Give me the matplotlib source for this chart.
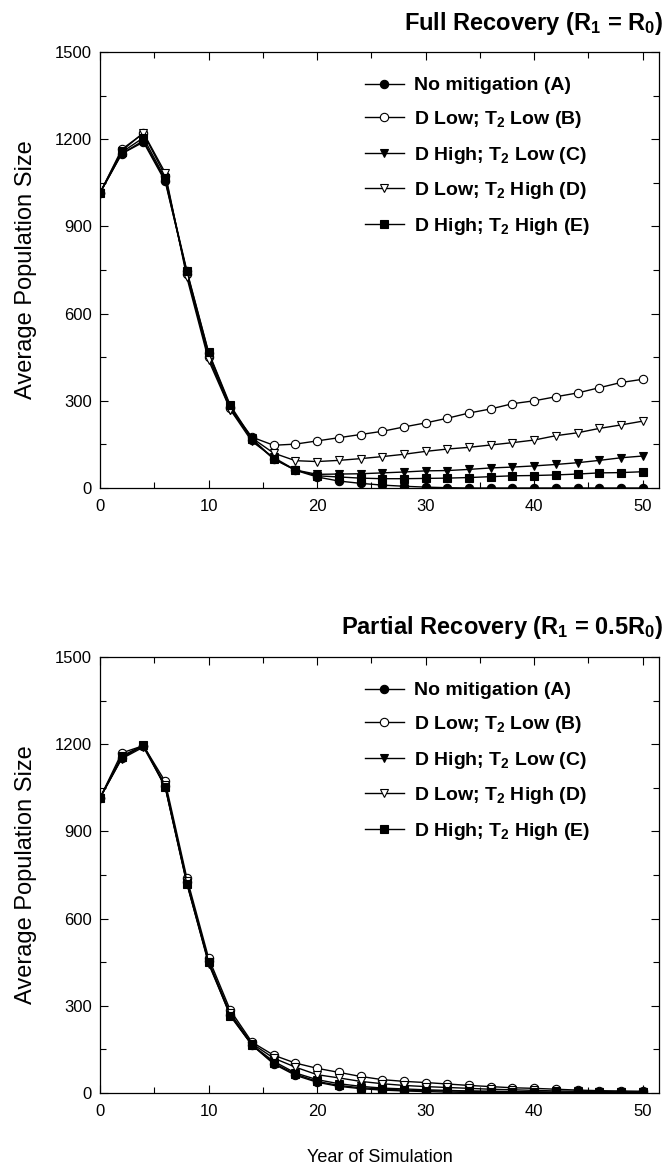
#!/usr/bin/env python3
"""
Average population size over 50 simulated years, two recovery scenarios,
five mitigation treatments each (A-E).
"""

import matplotlib
matplotlib.use("Agg")
import matplotlib.pyplot as plt
from matplotlib.ticker import MultipleLocator

plt.rcParams["font.family"] = ["Liberation Sans", "DejaVu Sans"]
plt.rcParams["mathtext.default"] = "regular"

years = list(range(0, 51, 2))

labels = [
    "No mitigation (A)",
    "D Low; T$_2$ Low (B)",
    "D High; T$_2$ Low (C)",
    "D Low; T$_2$ High (D)",
    "D High; T$_2$ High (E)",
]

# Full recovery (R1 = R0)
full_a = [1015, 1150, 1190, 1055, 745, 465, 280, 165, 100, 61, 38, 24, 16,
          10, 6, 3, 1, 0, 0, 0, 0, 0, 0, 0, 0, 0]
full_b = [1015, 1165, 1220, 1075, 735, 450, 275, 175, 147, 151, 162, 173, 184,
          195, 210, 224, 240, 258, 272, 290, 300, 314, 327, 345, 363, 374]
full_c = [1015, 1150, 1195, 1060, 740, 455, 270, 160, 105, 62, 47, 48, 49,
          52, 55, 59, 60, 64, 69, 72, 76, 81, 87, 95, 104, 110]
full_d = [1015, 1160, 1222, 1085, 725, 440, 270, 172, 120, 94, 91, 95, 101,
          108, 116, 126, 134, 140, 148, 156, 165, 180, 190, 205, 217, 230]
full_e = [1015, 1155, 1205, 1065, 748, 468, 285, 170, 100, 62, 42, 38, 34,
          32, 32, 33, 34, 36, 39, 42, 43, 45, 48, 52, 53, 56]

# Partial recovery (R1 = 0.5 R0)
part_a = [1015, 1152, 1195, 1055, 725, 455, 270, 165, 100, 61, 37, 23, 15,
          10, 7, 5, 3, 2, 2, 1, 1, 1, 0, 0, 0, 0]
part_b = [1015, 1170, 1195, 1072, 740, 465, 285, 175, 130, 103, 85, 71, 57,
          46, 40, 36, 31, 26, 22, 18, 16, 13, 10, 8, 7, 6]
part_c = [1015, 1150, 1190, 1055, 722, 445, 268, 165, 109, 69, 46, 32, 23,
          17, 14, 11, 9, 7, 6, 5, 4, 3, 3, 2, 2, 2]
part_d = [1015, 1160, 1195, 1060, 730, 450, 275, 170, 120, 89, 63, 52, 40,
          32, 26, 22, 19, 16, 13, 11, 9, 7, 6, 5, 4, 4]
part_e = [1015, 1155, 1198, 1052, 720, 450, 265, 165, 103, 65, 40, 26, 18,
          14, 10, 8, 7, 6, 5, 4, 3, 2, 2, 1, 1, 1]

# marker, face colour per treatment
styles = [("o", "black"), ("o", "white"), ("v", "black"), ("v", "white"), ("s", "black")]

W, H = 670, 1172


def draw_panel(ax, series, title, title_y):
    for vals, lab, (mk, fc) in zip(series, labels, styles):
        ax.plot(years, vals, color="black", lw=1.0, marker=mk, markersize=6,
                markerfacecolor=fc, markeredgecolor="black", markeredgewidth=0.8,
                label=lab)

    ax.set_xlim(0, 51.5)
    ax.set_ylim(0, 1500)
    ax.xaxis.set_major_locator(MultipleLocator(10))
    ax.xaxis.set_minor_locator(MultipleLocator(5))
    ax.yaxis.set_major_locator(MultipleLocator(300))
    ax.yaxis.set_minor_locator(MultipleLocator(150))
    ax.tick_params(which="both", direction="in", top=True, right=True,
                   labelsize=12, width=0.8)
    ax.tick_params(axis="x", which="major", pad=8)
    ax.tick_params(axis="y", which="major", pad=6)
    ax.tick_params(which="major", length=6)
    ax.tick_params(which="minor", length=4)
    for sp in ax.spines.values():
        sp.set_linewidth(0.9)

    ax.set_ylabel("Average Population Size", fontsize=17)
    ax.yaxis.set_label_coords(-(100 - 37) / 559, 0.5)

    ax.legend(loc="upper left", bbox_to_anchor=(0.474, 0.943), frameon=False,
              prop={"weight": "bold", "size": 14}, handlelength=2.0,
              handletextpad=0.5, labelspacing=0.75, borderpad=0, borderaxespad=0)

    ax.figure.text(0.99, 1 - title_y / H, title, ha="right", va="baseline",
                   fontsize=17, fontweight="bold")


fig = plt.figure(figsize=(W / 100, H / 100), dpi=100)
ax1 = fig.add_axes([100 / W, 1 - 488 / H, 559 / W, 436 / H])
ax2 = fig.add_axes([100 / W, 1 - 1093 / H, 559 / W, 436 / H])

draw_panel(ax1, [full_a, full_b, full_c, full_d, full_e],
           "Full Recovery (R$_1$ = R$_0$)", 30)
draw_panel(ax2, [part_a, part_b, part_c, part_d, part_e],
           "Partial Recovery (R$_1$ = 0.5R$_0$)", 634)

fig.text(380 / W, 1 - 1157 / H, "Year of Simulation", ha="center", va="center",
         fontsize=13)

fig.savefig("out.png", dpi=100)
